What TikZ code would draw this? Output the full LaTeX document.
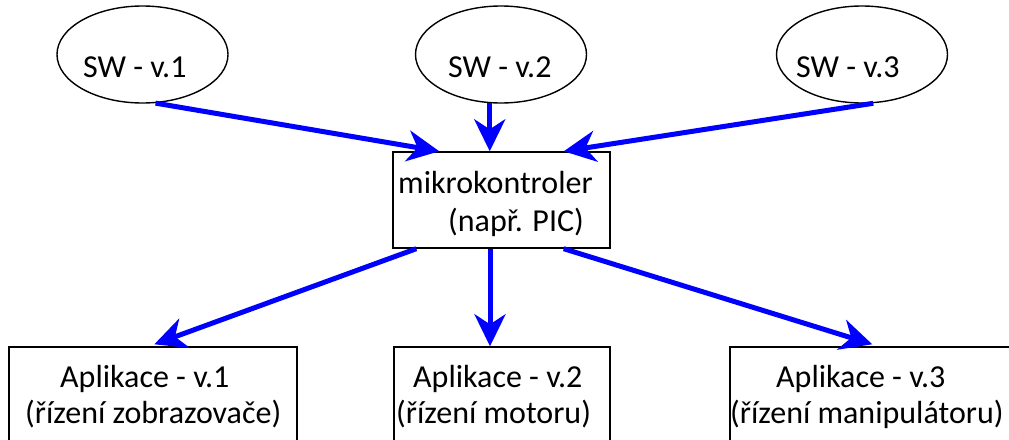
\documentclass[tikz,border=0pt]{standalone}
\usepackage{fontspec}
\setmainfont{Carlito}
\usetikzlibrary{arrows.meta,calc,shapes.geometric}
\definecolor{flowblue}{RGB}{0,0,255}
\begin{document}
\begin{tikzpicture}[x=1pt,y=-1pt,
  lbl/.style={inner sep=0pt, anchor=base west, font=\fontsize{32}{36}\selectfont},
  swell/.style={ellipse, draw, line width=1.4pt, minimum width=171pt, minimum height=97pt, inner sep=0pt},
  frame/.style={rectangle, draw, line width=1.4pt, inner sep=0pt},
  flow/.style={draw=flowblue, line width=5pt, -{Stealth[length=32pt,width=31pt,inset=10pt]}}]
\useasboundingbox (0,0) rectangle (1009,439);
\clip (0,0) rectangle (1009,439);

% software versions
\node[swell] (sw1) at (142.5,54.5) {};
\node[swell] (sw2) at (501,54.5) {};
\node[swell] (sw3) at (862,54.5) {};
\node[lbl] (sw1t) at (83,77) {SW - v.1};
\node[lbl] (sw2t) at (448,77) {SW - v.2};
\node[lbl] (sw3t) at (796,77) {SW - v.3};

% microcontroller
\node[frame, minimum width=217pt, minimum height=96pt] (mc) at (501.5,200) {};
\node[lbl] (mct1) at (398,193) {mikrokontroler};
\node[lbl] (mct2) at (448,231) {(např. PIC)};

% applications
\node[frame, minimum width=288pt, minimum height=123pt] (app1) at (153,408.5) {};
\node[frame, minimum width=216pt, minimum height=123pt] (app2) at (502,408.5) {};
\node[frame, minimum width=310pt, minimum height=123pt] (app3) at (885,408.5) {};
\node[lbl] (app1a) at (60,387) {Aplikace - v.1};
\node[lbl] (app1b) at (25,423) {(řízení zobrazovače)};
\node[lbl] (app2a) at (413,387) {Aplikace - v.2};
\node[lbl] (app2b) at (396,423) {(řízení motoru)};
\node[lbl] (app3a) at (776,387) {Aplikace - v.3};
\node[lbl] (app3b) at (730,423) {(řízení manipulátoru)};

% connector end points on the controller box
\coordinate (mcin1) at ($(mc.north west)+(47,0)$);
\coordinate (mcin3) at ($(mc.north east)+(-47,0)$);
\coordinate (mcout1) at ($(mc.south west)+(24,0)$);
\coordinate (mcout2) at ($(mc.south)+(-11.5,0)$);
\coordinate (mcout3) at ($(mc.south east)+(-47,0)$);
\coordinate (app1in) at ($(app1.north west)+(146,-2)$);
\coordinate (app3in) at ($(app3.north west)+(143,-2)$);

% software into the controller
\draw[flow] (sw1.-75) -- (mcin1);
\draw[flow] (sw2.-103) -- (sw2.-103 |- mc.north);
\draw[flow] (sw3.-77) -- (mcin3);

% controller to applications
\draw[flow] (mcout1) -- (app1in);
\draw[flow] (mcout2) -- (mcout2 |- app2.north);
\draw[flow] (mcout3) -- (app3in);
\end{tikzpicture}
\end{document}
